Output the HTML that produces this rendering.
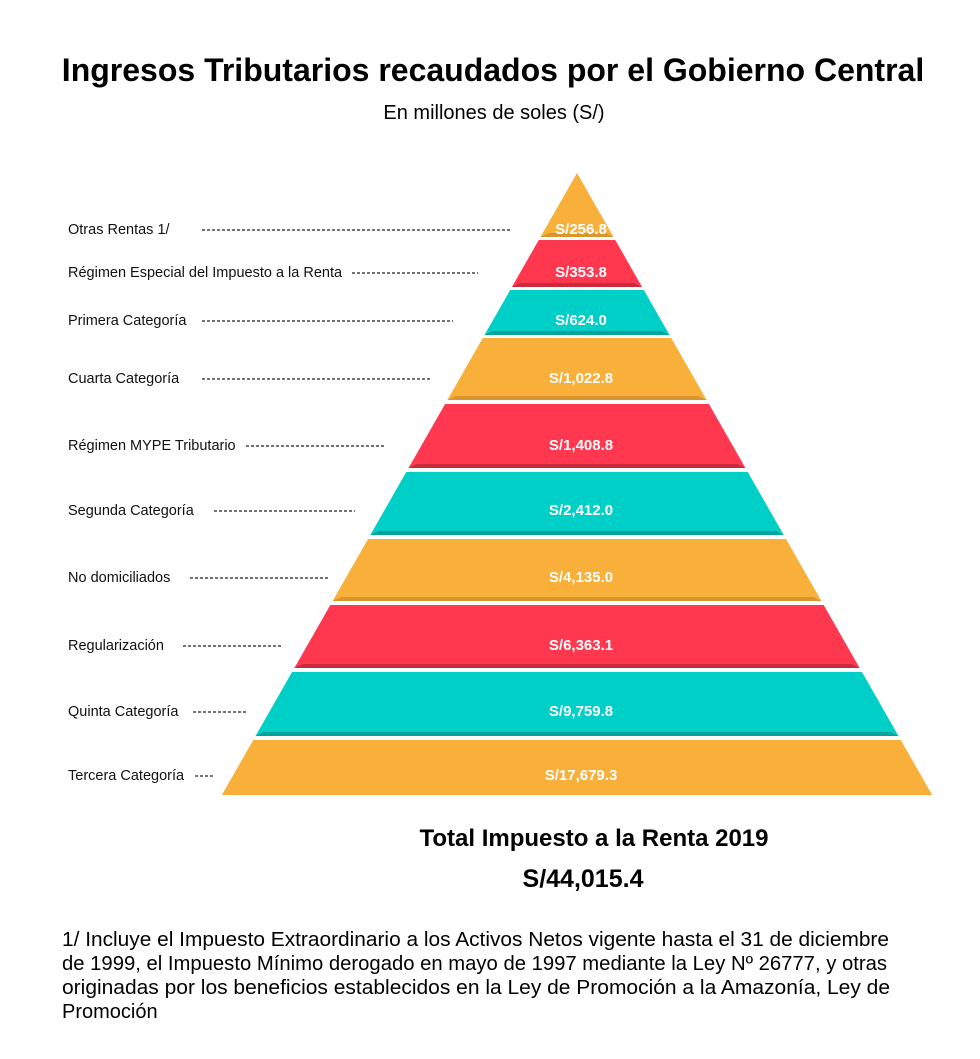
<!DOCTYPE html>
<html><head><meta charset="utf-8">
<style>
body{margin:0;background:#fff;width:980px;height:1059px;overflow:hidden;font-family:"Liberation Sans",sans-serif;color:#111}
svg{position:absolute;left:0;top:0}
</style></head>
<body>
<svg width="980" height="1059">
<text x="493" y="81" text-anchor="middle" font-size="32" font-weight="bold">Ingresos Tributarios recaudados por el Gobierno Central</text>
<text x="494" y="119" text-anchor="middle" font-size="20">En millones de soles (S/)</text>
<g id="bands"></g>
<text x="594" y="846" text-anchor="middle" font-size="24" font-weight="bold">Total Impuesto a la Renta 2019</text>
<text x="583" y="887" text-anchor="middle" font-size="25" font-weight="bold">S/44,015.4</text>
<g font-size="20">
<text x="62" y="946" textLength="827" lengthAdjust="spacingAndGlyphs">1/ Incluye el Impuesto Extraordinario a los Activos Netos vigente hasta el 31 de diciembre</text>
<text x="62" y="970" textLength="825" lengthAdjust="spacingAndGlyphs">de 1999, el Impuesto Mínimo derogado en mayo de 1997 mediante la Ley Nº 26777, y otras</text>
<text x="62" y="994" textLength="828" lengthAdjust="spacingAndGlyphs">originadas por los beneficios establecidos en la Ley de Promoción a la Amazonía, Ley de</text>
<text x="62" y="1018">Promoción</text>
</g>
</svg>
<script>
const categories=["Otras Rentas 1/","Régimen Especial del Impuesto a la Renta","Primera Categoría","Cuarta Categoría","Régimen MYPE Tributario","Segunda Categoría","No domiciliados","Regularización","Quinta Categoría","Tercera Categoría"];
const values=[256.8,353.8,624.0,1022.8,1408.8,2412.0,4135.0,6363.1,9759.8,17679.3];
const valueLabels=["S/256.8","S/353.8","S/624.0","S/1,022.8","S/1,408.8","S/2,412.0","S/4,135.0","S/6,363.1","S/9,759.8","S/17,679.3"];
const bandTops=[173,240,290,338,404,472,539,605,672,740];
const bandBottoms=[237,287,335,400,468,535,601,668,736,795];
const dashStarts=[202,352,202,202,246,214,190,183,193,195];
const dashEnds=[510,478,453,431,386,355,330,283,247,215];
const colors=["#F9B03B","#FF3850","#00CFC7"];
const shades=["#D9962F","#C92A3E","#00A39C"];
const ns="http://www.w3.org/2000/svg";
const g=document.getElementById('bands');
const cx=577,apex=173,slope=0.571;
const hw=y=>(y-apex)*slope;
function mk(t,a){const e=document.createElementNS(ns,t);for(const k in a)e.setAttribute(k,a[k]);g.appendChild(e);return e;}
const rows=[229,272,320,378,445,510,577,645,711,775];
categories.forEach((c,i)=>{
  const t=bandTops[i],b=bandBottoms[i],ci=[0,1,2,0,1,2,0,1,2,0][i];
  const pts=`${cx-hw(t)},${t} ${cx+hw(t)},${t} ${cx+hw(b)},${b} ${cx-hw(b)},${b}`;
  const p=mk('polygon',{points:pts,fill:colors[ci]});
  
  
  if(i<9){const s=mk('polygon',{points:`${cx-hw(b-4)+6},${b-4} ${cx+hw(b-4)-6},${b-4} ${cx+hw(b)},${b} ${cx-hw(b)},${b}`,fill:shades[ci]});
  
  }
  const ly=rows[i];
  const vt=mk('text',{x:cx+4,y:ly+5,'text-anchor':'middle','font-size':15,'font-weight':'bold',fill:'#fff'});
  vt.textContent=valueLabels[i];
  
  
  const lt=mk('text',{x:68,y:ly+5,'font-size':14.5,fill:'#111'});
  lt.textContent=c;
  
  
  const dl=mk('line',{x1:dashStarts[i],y1:ly+1,x2:dashEnds[i],y2:ly+1,stroke:'#222','stroke-width':1.3,'stroke-dasharray':'3,2'});
  
  
});
</script>
</body></html>
